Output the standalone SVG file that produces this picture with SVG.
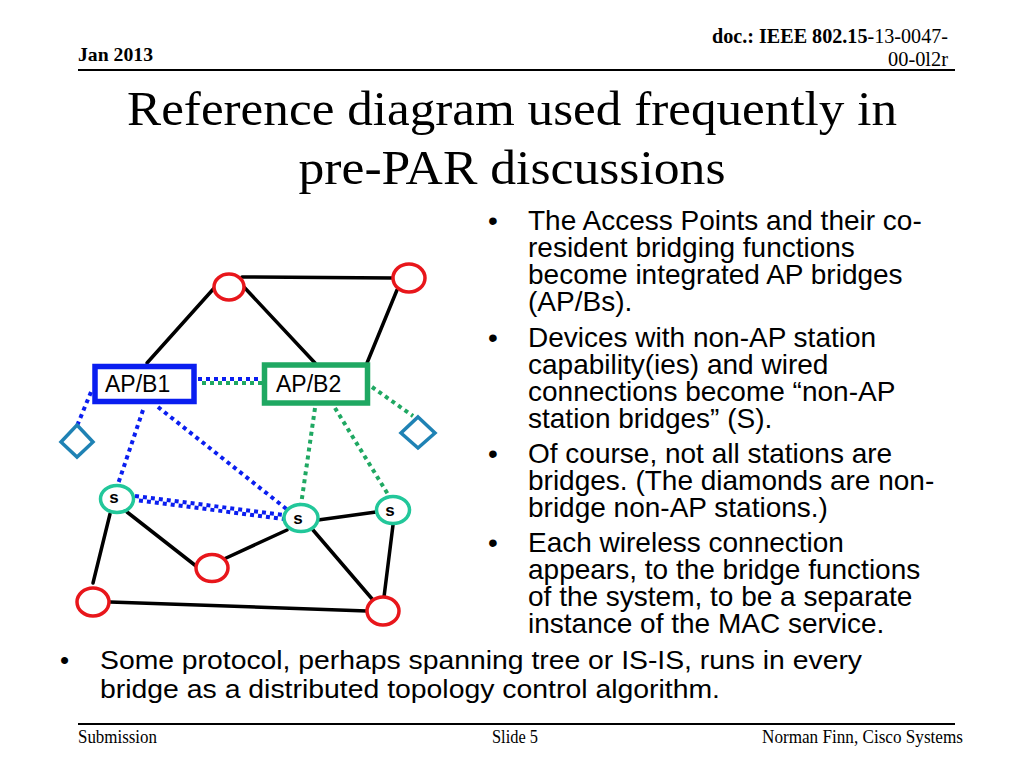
<svg xmlns="http://www.w3.org/2000/svg" width="1024" height="768" viewBox="0 0 1024 768">
<style>
.serif{font-family:"Liberation Serif","Times New Roman",serif;fill:#000}
.sans{font-family:"Liberation Sans",Arial,sans-serif;fill:#000}
.wire{stroke:#000;stroke-width:3.5;fill:none;stroke-linecap:round}
.bdot{stroke:#0A1EF0;stroke-width:4;stroke-dasharray:4 4;fill:none}
.gdot{stroke:#1FA862;stroke-width:4;stroke-dasharray:4 4;fill:none}
.red{fill:#fff;stroke:#E8161B;stroke-width:3.5}
.sta{fill:#fff;stroke:#22C79A;stroke-width:3.5}
.dia{fill:#fff;stroke:#1F82B4;stroke-width:3.5}
.body{font-size:28px}
.slab{font-size:17px;font-weight:bold}
</style>
<rect width="1024" height="768" fill="#fff"/>
<!-- header -->
<g id="header">
<text class="serif" x="78" y="61" font-size="19" font-weight="bold" textLength="75" lengthAdjust="spacingAndGlyphs">Jan 2013</text>
<text class="serif" x="712" y="43" font-size="20" textLength="236" lengthAdjust="spacingAndGlyphs"><tspan font-weight="bold">doc.: IEEE 802.15</tspan>-13-0047-</text>
<text class="serif" x="888" y="66" font-size="20" textLength="60" lengthAdjust="spacingAndGlyphs">00-0l2r</text>
<line x1="78" y1="70" x2="955" y2="70" stroke="#000" stroke-width="2"/>
</g>
<g id="title">
<text class="serif" x="512" y="125" font-size="49" text-anchor="middle" textLength="770" lengthAdjust="spacingAndGlyphs">Reference diagram used frequently in</text>
<text class="serif" x="512" y="184" font-size="49" text-anchor="middle" textLength="427" lengthAdjust="spacingAndGlyphs">pre-PAR discussions</text>
</g>
<!-- connectors -->
<g id="connectors">
<line class="wire" x1="242" y1="277" x2="394" y2="278"/>
<line class="wire" x1="216" y1="286" x2="147" y2="363"/>
<line class="wire" x1="243" y1="286" x2="315" y2="363"/>
<line class="wire" x1="397" y1="290" x2="367" y2="363"/>
<line class="wire" x1="110" y1="514" x2="93" y2="583"/>
<line class="wire" x1="127" y1="512" x2="196" y2="566"/>
<line class="wire" x1="224" y1="559" x2="287" y2="530"/>
<line class="wire" x1="318" y1="520" x2="376" y2="512"/>
<line class="wire" x1="313" y1="530" x2="373" y2="600"/>
<line class="wire" x1="393" y1="525" x2="384" y2="597"/>
<line class="wire" x1="110" y1="602" x2="367" y2="611"/>
<!-- wireless -->
<line class="bdot" x1="198" y1="379" x2="262" y2="379"/>
<line class="gdot" x1="198" y1="383" x2="262" y2="383" stroke-dashoffset="4"/>
<line class="bdot" x1="91" y1="392" x2="77" y2="426"/>
<line class="bdot" x1="143" y1="410" x2="117" y2="487"/>
<line class="bdot" x1="158" y1="407" x2="289" y2="511"/>
<line class="bdot" x1="135" y1="496" x2="284" y2="515"/>
<line class="bdot" x1="135" y1="500" x2="284" y2="519" stroke-dashoffset="4"/>
<line class="gdot" x1="315" y1="408" x2="301" y2="505"/>
<line class="gdot" x1="335" y1="408" x2="389" y2="496"/>
<line class="gdot" x1="372" y1="387" x2="413" y2="416"/>
</g>
<!-- nodes -->
<g id="n-top"><ellipse class="red" cx="229" cy="287" rx="15" ry="13"/></g>
<g id="n-topright"><ellipse class="red" cx="409" cy="278" rx="16" ry="14"/></g>
<g id="apb1"><rect x="95" y="366.5" width="99" height="35" fill="#fff" stroke="#0A1EF0" stroke-width="5.5"/>
<text class="sans" x="105" y="392" font-size="23">AP/B1</text></g>
<g id="apb2"><rect x="264.5" y="365" width="103" height="38" fill="#fff" stroke="#1FA862" stroke-width="5.5"/>
<text class="sans" x="276" y="392" font-size="23">AP/B2</text></g>
<g id="dia-left"><polygon class="dia" points="77,425 93,442 77,457 61,442"/></g>
<g id="dia-right"><polygon class="dia" points="418,417 435,433 418,448 401,433"/></g>
<g id="s1"><ellipse class="sta" cx="117" cy="499" rx="16.5" ry="13.5"/>
<text class="sans slab" x="114" y="503" text-anchor="middle">s</text></g>
<g id="s2"><ellipse class="sta" cx="301" cy="518" rx="17" ry="13.5"/>
<text class="sans slab" x="298" y="524" text-anchor="middle">s</text></g>
<g id="s3"><ellipse class="sta" cx="393" cy="510" rx="16.5" ry="13.5"/>
<text class="sans slab" x="390" y="516" text-anchor="middle">s</text></g>
<g id="n-midbottom"><ellipse class="red" cx="212" cy="568" rx="16" ry="13.5"/></g>
<g id="n-bottomleft"><ellipse class="red" cx="93" cy="602" rx="16" ry="14"/></g>
<g id="n-bottomright"><ellipse class="red" cx="383" cy="611" rx="16" ry="14"/></g>
<!-- bullets -->
<g id="bullets">
<text class="sans body" x="488" y="230">•</text>
<text class="sans body" x="528" y="230">The Access Points and their co-</text>
<text class="sans body" x="528" y="257">resident bridging functions</text>
<text class="sans body" x="528" y="284">become integrated AP bridges</text>
<text class="sans body" x="528" y="311">(AP/Bs).</text>
<text class="sans body" x="488" y="347">•</text>
<text class="sans body" x="528" y="347">Devices with non-AP station</text>
<text class="sans body" x="528" y="374">capability(ies) and wired</text>
<text class="sans body" x="528" y="401">connections become “non-AP</text>
<text class="sans body" x="528" y="428">station bridges” (S).</text>
<text class="sans body" x="488" y="463">•</text>
<text class="sans body" x="528" y="463">Of course, not all stations are</text>
<text class="sans body" x="528" y="490">bridges. (The diamonds are non-</text>
<text class="sans body" x="528" y="517">bridge non-AP stations.)</text>
<text class="sans body" x="488" y="552">•</text>
<text class="sans body" x="528" y="552">Each wireless connection</text>
<text class="sans body" x="528" y="579">appears, to the bridge functions</text>
<text class="sans body" x="528" y="606">of the system, to be a separate</text>
<text class="sans body" x="528" y="633">instance of the MAC service.</text>
<text class="sans" x="60" y="669" font-size="26">•</text>
<text class="sans" x="100" y="669" font-size="26" textLength="762" lengthAdjust="spacingAndGlyphs">Some protocol, perhaps spanning tree or IS-IS, runs in every</text>
<text class="sans" x="100" y="698" font-size="26" textLength="620" lengthAdjust="spacingAndGlyphs">bridge as a distributed topology control algorithm.</text>
</g>
<!-- footer -->
<g id="footer">
<line x1="78" y1="724" x2="955" y2="724" stroke="#000" stroke-width="2"/>
<text class="serif" x="78" y="743" font-size="18" textLength="79" lengthAdjust="spacingAndGlyphs">Submission</text>
<text class="serif" x="492" y="743" font-size="18" textLength="46" lengthAdjust="spacingAndGlyphs">Slide 5</text>
<text class="serif" x="762" y="743" font-size="18" textLength="201" lengthAdjust="spacingAndGlyphs">Norman Finn, Cisco Systems</text>
</g>
</svg>
